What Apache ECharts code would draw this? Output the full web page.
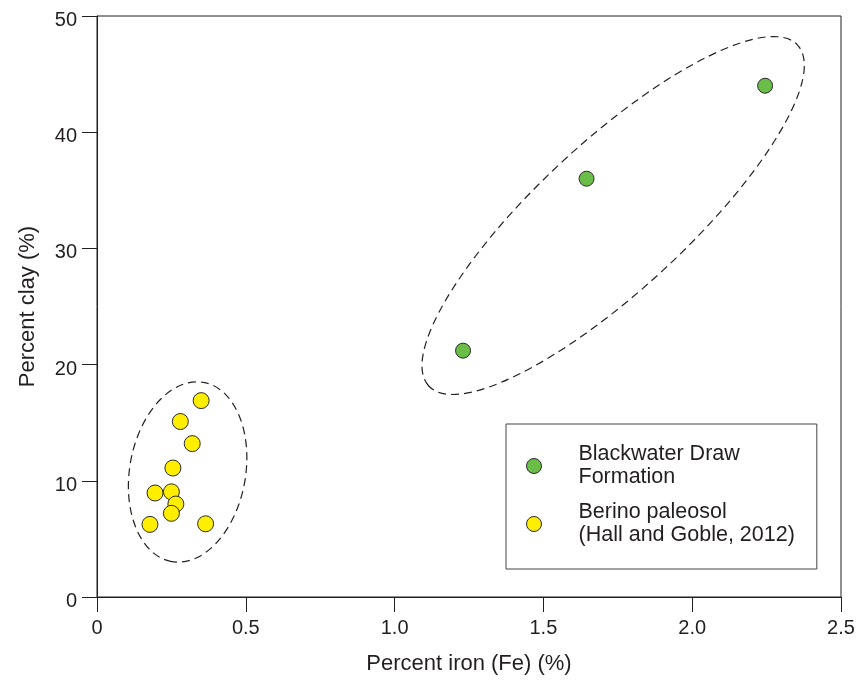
<!DOCTYPE html>
<html>
<head>
<meta charset="utf-8">
<script src="https://cdn.jsdelivr.net/npm/echarts@6/dist/echarts.min.js"></script>
<style>
  html, body { margin: 0; padding: 0; background: #fff; }
  #chart { width: 861px; height: 680px; }
</style>
</head>
<body>
<div id="chart"></div>
<script>
// series names (legend text)
const seriesNames = ['Blackwater Draw\nFormation', 'Berino paleosol\n(Hall and Goble, 2012)'];

// Blackwater Draw Formation: [Fe %, clay %]
const blackwater = [
  [1.23, 21.2],
  [1.645, 36.0],
  [2.245, 44.0]
];

// Berino paleosol: [Fe %, clay %]
const berino = [
  [0.35, 16.9],
  [0.28, 15.1],
  [0.32, 13.2],
  [0.255, 11.1],
  [0.195, 8.95],
  [0.25, 9.05],
  [0.265, 8.0],
  [0.25, 7.2],
  [0.178, 6.25],
  [0.365, 6.3]
];

// dashed group outlines: major-axis ends [x1, y1, x2, y2] and minor/major ratio
const groupOutlines = [
  [0.2513, 3.05, 0.3577, 18.47, 0.637],
  [1.1148, 18.16, 2.354, 47.5, 0.295]
];

const xTicks = { min: 0, max: 2.5, interval: 0.5 };
const yTicks = { min: 0, max: 50, interval: 10 };

const ink = '#231f20';
const fontReg = "'Liberation Sans', Arial, sans-serif";

const chart = echarts.init(document.getElementById('chart'));

chart.setOption({
  backgroundColor: '#fff',
  animation: false,
  grid: {
    left: 97,
    right: 20,
    top: 16,
    bottom: 83,
    show: true,
    borderColor: ink,
    borderWidth: 1
  },
  legend: {
    orient: 'vertical',
    left: 506,
    top: 424,
    data: seriesNames,
    itemWidth: 15,
    itemHeight: 15,
    itemGap: 12,
    padding: [19, 22, 22, 20],
    borderColor: '#444',
    borderWidth: 1,
    itemStyle: { borderWidth: 1, borderColor: '#2b2b2b' },
    textStyle: {
      fontFamily: fontReg,
      fontSize: 21.5,
      lineHeight: 23,
      color: ink,
      padding: [0, 0, 0, 32]
    }
  },
  xAxis: {
    type: 'value',
    min: xTicks.min,
    max: xTicks.max,
    interval: xTicks.interval,
    name: 'Percent iron (Fe) (%)',
    nameLocation: 'middle',
    nameGap: 56,
    nameTextStyle: { fontFamily: fontReg, fontSize: 22, color: ink },
    axisLine: { lineStyle: { color: ink, width: 1 } },
    axisTick: { show: true, inside: false, length: 15, lineStyle: { color: ink } },
    axisLabel: {
      margin: 21,
      fontFamily: fontReg,
      fontSize: 20,
      color: ink,
      formatter: function (v) { return v === 0 ? '0' : v.toFixed(1); }
    },
    splitLine: { show: false }
  },
  yAxis: {
    type: 'value',
    min: yTicks.min,
    max: yTicks.max,
    interval: yTicks.interval,
    name: 'Percent clay (%)',
    nameLocation: 'middle',
    nameGap: 58,
    nameTextStyle: { fontFamily: fontReg, fontSize: 22, color: ink },
    axisLine: { show: true, lineStyle: { color: ink, width: 1 } },
    axisTick: { show: true, inside: false, length: 15, lineStyle: { color: ink } },
    axisLabel: {
      margin: 20,
      fontFamily: fontReg,
      fontSize: 20,
      color: ink,
      verticalAlign: 'top',
      lineHeight: 9
    },
    splitLine: { show: false }
  },
  series: [
    {
      name: 'outlines',
      type: 'custom',
      silent: true,
      encode: { x: [0, 2], y: [1, 3] },
      data: groupOutlines,
      renderItem: function (params, api) {
        const p1 = api.coord([api.value(0), api.value(1)]);
        const p2 = api.coord([api.value(2), api.value(3)]);
        const dx = p2[0] - p1[0];
        const dy = p2[1] - p1[1];
        const a = Math.hypot(dx, dy) / 2;
        return {
          type: 'ellipse',
          x: (p1[0] + p2[0]) / 2,
          y: (p1[1] + p2[1]) / 2,
          rotation: Math.atan2(-dy, dx),
          shape: { cx: 0, cy: 0, rx: a, ry: a * api.value(4) },
          style: { fill: 'none', stroke: '#222', lineWidth: 1.2, lineDash: [8, 5] }
        };
      },
      z: 1
    },
    {
      name: seriesNames[0],
      type: 'scatter',
      data: blackwater,
      symbol: 'circle',
      symbolSize: 15,
      itemStyle: { color: '#6abd46', borderColor: '#2b2b2b', borderWidth: 1, opacity: 1 },
      z: 3
    },
    {
      name: seriesNames[1],
      type: 'scatter',
      data: berino,
      symbol: 'circle',
      symbolSize: 16,
      itemStyle: { color: '#ffee00', borderColor: '#2b2b2b', borderWidth: 1, opacity: 1 },
      z: 3
    }
  ]
});
</script>
</body>
</html>
